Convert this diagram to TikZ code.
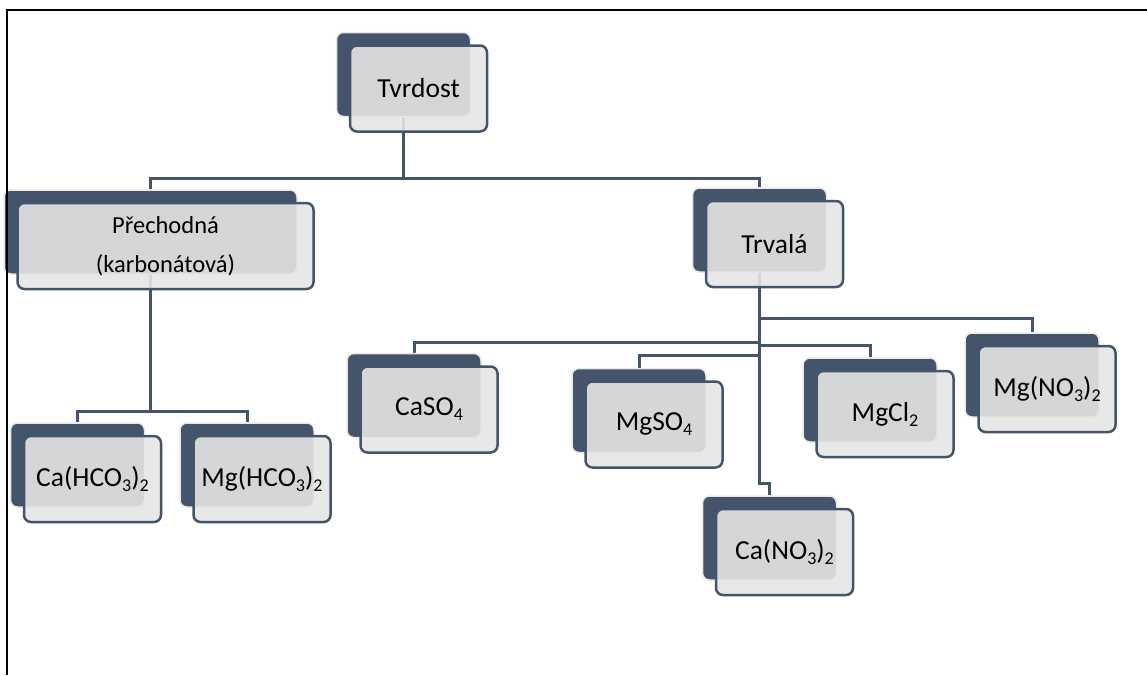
\documentclass[tikz,border=0pt]{standalone}
\usepackage{fontspec}
\setmainfont{Carlito}
\usepackage{tikz}
\usetikzlibrary{calc, backgrounds}
\definecolor{cSlate}{RGB}{68,84,106}
\definecolor{cPale}{RGB}{229,229,229}
\definecolor{cRim}{RGB}{232,232,232}
\newcommand\chsub[1]{\raisebox{-5pt}{\fontsize{18}{18}\selectfont #1}}
\tikzset{
	back/.style ={rectangle, rounded corners=7pt, minimum width=134pt, minimum height=84pt, draw=cRim, line width=1.5pt, fill=cSlate},
	front/.style={rectangle, rounded corners=7pt, minimum width=137pt, minimum height=86pt, align=center, draw=cSlate, line width=2.5pt, fill=cPale, fill opacity=0.9, text opacity=1, font=\fontsize{27.5}{32}\selectfont},
	wide/.style ={minimum width=293pt},
	link/.style ={draw=cSlate, line width=3pt},
	frame/.style={draw=black, line width=2pt},
}

\begin{document}
\begin{tikzpicture}[x=1pt, y=-1pt]
	\useasboundingbox (0,0) rectangle (1147,675);
	% top level
	\node[back] (tB) at (403.5,74.5) {};
	\node[front] (t) at ($(tB)+(15,14)$) {Tvrdost};
	% second level
	\node[back, wide] (pB) at (150.5,232) {};
	\node[front, wide, minimum width=296pt, font=\fontsize{24.5}{39}\selectfont] (p) at ($(pB)+(15,14)$) {Přechodná\\(karbonátová)};
	\node[back] (rB) at (759.5,230) {};
	\node[front] (r) at ($(rB)+(15,14)$) {Trvalá};
	% temporary hardness salts
	\node[back] (chB) at (77.5,465) {};
	\node[front] (ch) at ($(chB)+(15,14)$) {Ca(HCO\chsub{3})\chsub{2}};
	\node[back] (mhB) at (247,465) {};
	\node[front] (mh) at ($(mhB)+(15,14)$) {Mg(HCO\chsub{3})\chsub{2}};
	% permanent hardness salts
	\node[back] (csB) at (414,395.5) {};
	\node[front] (cs) at ($(csB)+(15,14)$) {CaSO\chsub{4}};
	\node[back] (msB) at (639,410.5) {};
	\node[front] (ms) at ($(msB)+(15,14)$) {MgSO\chsub{4}};
	\node[back] (mcB) at (870,400) {};
	\node[front] (mc) at ($(mcB)+(15,14)$) {MgCl\chsub{2}};
	\node[back] (mnB) at (1032,375) {};
	\node[front] (mn) at ($(mnB)+(15,14)$) {Mg(NO\chsub{3})\chsub{2}};
	\node[back] (cnB) at (769.5,538) {};
	\node[front] (cn) at ($(cnB)+(15,14)$) {Ca(NO\chsub{3})\chsub{2}};
	\begin{scope}[on background layer]
		\draw[link] (tB.south) -- ++(0,61) -| (pB.north);
		\draw[link] (tB.south) -- ++(0,61) -| (rB.north);
		\draw[link] (pB.south) -- ++(0,137) -| (chB.north);
		\draw[link] (pB.south) -- ++(0,137) -| (mhB.north);
		\draw[link] (rB.south) -- ++(0,46) -| (mnB.north);
		\draw[link] (rB.south) -- ++(0,70) -| (csB.north);
		\draw[link] (rB.south) -- ++(0,73) -| (mcB.north);
		\draw[link] (rB.south) -- ++(0,83) -| (msB.north);
		\draw[link] (rB.south) -- ++(0,211) -| (cnB.north);
	\end{scope}
	\draw[frame] (7,675) -- (7,10) -- (1147,10);
\end{tikzpicture}
\end{document}
